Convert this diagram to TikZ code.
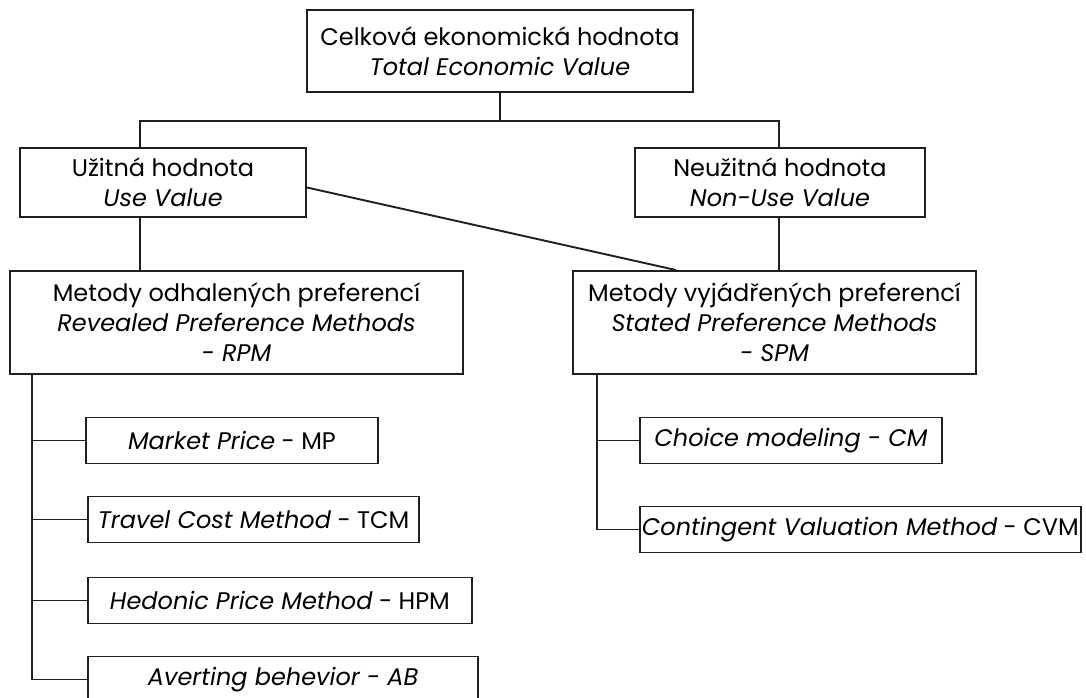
\documentclass[tikz,border=0pt]{standalone}
\usepackage{fontspec}
\setmainfont{Poppins}
\usetikzlibrary{calc}
\begin{document}
\begin{tikzpicture}[x=1pt,y=-1pt,
  box/.style={draw=black!88, line width=1.9pt, align=center, inner sep=0pt,
    font=\fontsize{24}{30}\selectfont},
  leaf/.style={box, anchor=west, minimum height=46pt},
  conn/.style={draw=black!88, line width=1.9pt}]
\useasboundingbox[fill=white] (0,0) rectangle (1086,697);
% main boxes
\node[box, minimum width=386pt, minimum height=82pt] (tev) at (500,51)
  {Celková ekonomická hodnota\\\textit{Total Economic Value}};
\node[box, minimum width=286pt, minimum height=69pt] (use) at (163,182.5)
  {Užitná hodnota\\\textit{Use Value}};
\node[box, minimum width=290pt, minimum height=69pt] (nonuse) at (780,182.5)
  {Neužitná hodnota\\\textit{Non-Use Value}};
\node[box, minimum width=453pt, minimum height=103pt] (rpm) at (236.5,322.5)
  {Metody odhalených preferencí\\\textit{Revealed Preference Methods}\\\textit{- RPM}};
\node[box, minimum width=403pt, minimum height=103pt] (spm) at (774.5,322.5)
  {Metody vyjádřených preferencí\\\textit{Stated Preference Methods}\\\textit{- SPM}};
% leaves
\node[leaf, minimum width=292pt] (mp) at (85,440.5) {\textit{Market Price} - MP};
\node[leaf, inner xsep=10pt] (tcm) at (87,519.5) {\textit{Travel Cost Method} - TCM};
\node[leaf, inner xsep=22pt] (hpm) at (87,600.5) {\textit{Hedonic Price Method} - HPM};
\node[leaf, inner xsep=60pt] (ab) at (87,679.5) {\textit{Averting behevior - AB}};
\node[leaf, minimum width=302pt] (cm) at (639,440.5) {\textit{Choice modeling - CM}};
\node[leaf, inner xsep=2pt] (cvm) at (639,529.5) {\textit{Contingent Valuation Method} - CVM};
% connectors
\coordinate (j1) at (140,121);
\coordinate (j2) at (779,121);
\draw[conn] (tev.south) -- (tev.south |- j1);
\draw[conn] (use.north -| j1) -- (j1) -- (j2) -- (nonuse.north -| j2);
\draw[conn] (use.south -| j1) -- (rpm.north -| j1);
\draw[conn] (nonuse.south -| j2) -- (spm.north -| j2);
\draw[conn] ($(use.east)+(0,5)$) -- ($(spm.north west)+(104,0)$);
\coordinate (rbus) at ($(rpm.south west)+(23,0)$);
\coordinate (sbus) at ($(spm.south west)+(25,0)$);
\draw[conn] (rbus) -- (rbus |- ab.west) -- (ab.west);
\draw[conn] (rbus |- mp.west) -- (mp.west);
\draw[conn] (rbus |- tcm.west) -- (tcm.west);
\draw[conn] (rbus |- hpm.west) -- (hpm.west);
\draw[conn] (sbus) -- (sbus |- cvm.west) -- (cvm.west);
\draw[conn] (sbus |- cm.west) -- (cm.west);
\end{tikzpicture}
\end{document}
